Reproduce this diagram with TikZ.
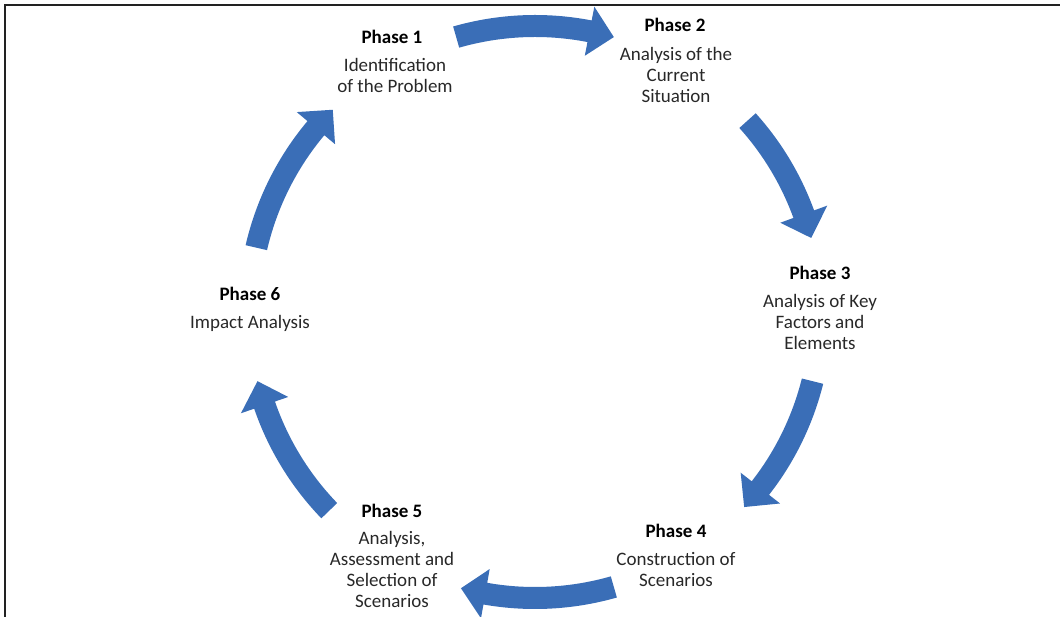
\documentclass[tikz,border=0pt]{standalone}
\usepackage{fontspec}
\setmainfont{Carlito}
\definecolor{arrowblue}{RGB}{58,110,183}
\definecolor{txtgray}{RGB}{40,40,40}
\definecolor{framegray}{RGB}{34,34,34}
\newcommand{\cycarrow}[3]{%
  \fill[arrowblue] (#1:297pt) arc[start angle=#1, end angle=#2, radius=297pt]
    -- (#2:311pt) -- (#3:286pt) -- (#2:261pt) -- (#2:275pt)
    arc[start angle=#2, end angle=#1, radius=275pt] -- cycle;}
\tikzset{
  phasetitle/.style={font=\fontsize{19}{21}\selectfont\bfseries, text=black, inner sep=0pt, align=center},
  phasebody/.style={font=\fontsize{19}{21}\selectfont, text=txtgray, inner sep=0pt, align=center},
}
\begin{document}
\begin{tikzpicture}[x=1pt,y=1pt]
\useasboundingbox (-535,-305) rectangle (529,312);
% frame
\coordinate (fb) at (-530,-306);
\coordinate (ftl) at (-530,307);
\coordinate (ftr) at (525,307);
\draw[line width=1.5pt, framegray] (fb) -- (ftl) -- (ftr);
% arrows
\cycarrow{106}{79}{74}
\cycarrow{42}{20}{15}
\cycarrow{-14}{-38}{-43}
\cycarrow{-74}{-100}{-105}
\cycarrow{-136}{-161}{-166}
\cycarrow{167}{140}{135}
% texts
\node[phasetitle] (p1t) at (-143,275) {Phase 1};
\node[phasebody] (p1b) at (-140,236.5) {Identification\\of the Problem};
\node[phasetitle] (p2t) at (140,287) {Phase 2};
\node[phasebody] (p2b) at (141,237) {Analysis of the\\Current\\Situation};
\node[phasetitle] (p3t) at (285,39) {Phase 3};
\node[phasebody] (p3b) at (285,-10) {Analysis of Key\\Factors and\\Elements};
\node[phasetitle] (p4t) at (141,-219) {Phase 4};
\node[phasebody] (p4b) at (141,-257.5) {Construction of\\Scenarios};
\node[phasetitle] (p5t) at (-143,-199) {Phase 5};
\node[phasebody] (p5b) at (-143,-257.5) {Analysis,\\Assessment and\\Selection of\\Scenarios};
\node[phasetitle] (p6t) at (-285,18) {Phase 6};
\node[phasebody] (p6b) at (-285,-11) {Impact Analysis};
\end{tikzpicture}
\end{document}
